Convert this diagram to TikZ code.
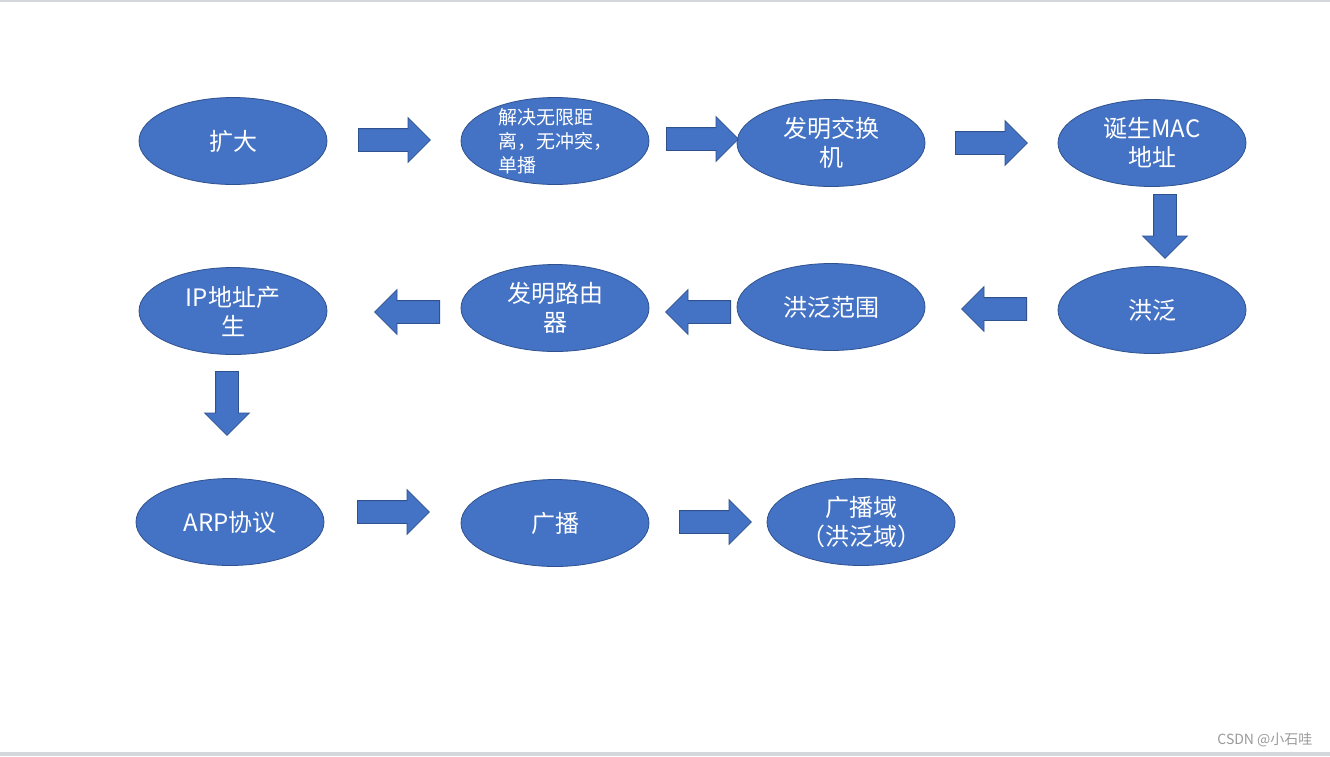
\documentclass[tikz,border=0pt]{standalone}
\usepackage{fontspec}
\setmainfont{Noto Sans CJK SC}
\usepackage{xcolor}
\usetikzlibrary{shapes.geometric, shapes.arrows}
\definecolor{boxblue}  {HTML}{4472C4}
\definecolor{edgeblue} {HTML}{2F528F}
\definecolor{framegray}{HTML}{D4D7DC}
\definecolor{markgray} {HTML}{9A9A9A}

\begin{document}
\begin{tikzpicture}[
    x=1pt, y=-1pt,
    stage/.style={ellipse, draw=edgeblue, line width=0.8pt, fill=boxblue,
                  text=white, minimum width=188pt, minimum height=87pt,
                  inner sep=0pt, align=center,
                  font=\fontsize{24}{29}\selectfont},
    blockarr/.style={single arrow, draw=edgeblue, line width=0.8pt,
                     fill=boxblue, minimum height=72pt, anchor=tail,
                     inner xsep=0pt, inner ysep=11pt,
                     single arrow head extend=11pt},
    downarr/.style={blockarr, minimum height=64pt, shape border rotate=270,
                    inner xsep=11pt, inner ysep=0pt},
    leftarr/.style={blockarr, minimum height=65pt, shape border rotate=180},
  ]
    % page and frame lines
    \useasboundingbox (0,0) rectangle (1330,756);
    \fill[white] (0,0) rectangle (1330,756);
    \fill[framegray] (0,0) rectangle (1330,2);
    \fill[framegray] (0,752) rectangle (1330,756);

    % first row
    \node[stage] (expand) at (233,141) {扩大};
    \node[stage, font=\fontsize{19}{24}\selectfont, align=left,
          inner ysep=-10pt] (solve) at (555,141)
      {解决无限距\\离，无冲突，\\单播};
    \node[stage] (switch) at (831,143) {发明交换\\机};
    \node[stage] (mac) at (1152,143) {诞生MAC\\地址};

    % second row
    \node[stage] (flood) at (1152,310) {洪泛};
    \node[stage] (range) at (831,307) {洪泛范围};
    \node[stage] (router) at (555,308) {发明路由\\器};
    \node[stage] (ipaddr) at (233,311) {IP地址产\\生};

    % third row
    \node[stage] (arp) at (230,522) {ARP协议};
    \node[stage] (bcast) at (555,523) {广播};
    \node[stage] (domain) at (861,522) {广播域\\（洪泛域）};

    % block arrows, placed by their tails
    \node[blockarr] (a1) at (358,140) {};
    \node[blockarr] (a2) at (666,139) {};
    \node[blockarr] (a3) at (955,143) {};
    \node[downarr] (a4) at (1165,194) {};
    \node[leftarr] (a5) at (1027,309) {};
    \node[leftarr] (a6) at (731,312) {};
    \node[leftarr] (a7) at (440,312) {};
    \node[downarr] (a8) at (227,371) {};
    \node[blockarr] (a9) at (357,512) {};
    \node[blockarr] (a10) at (679,522) {};

    % watermark
    \node[anchor=east, text=markgray, font=\fontsize{14}{16}\selectfont]
      (mark) at (1316,740) {CSDN @小石哇};
\end{tikzpicture}
\end{document}
